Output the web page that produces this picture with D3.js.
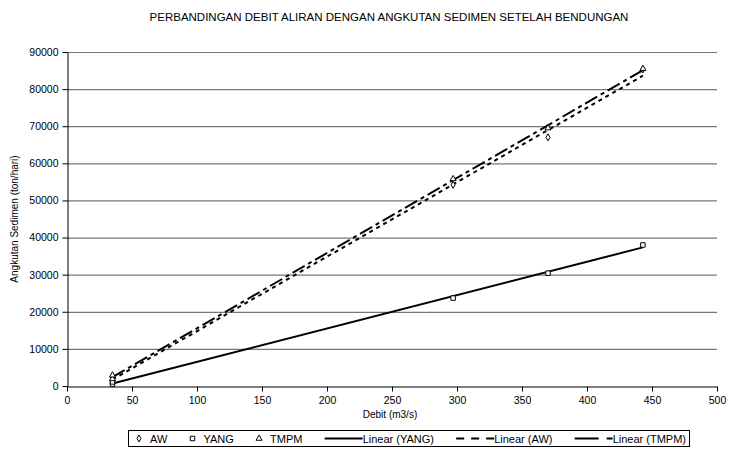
<!DOCTYPE html>
<html><head><meta charset="utf-8">
<script src="https://cdn.jsdelivr.net/npm/d3@7"></script>
<style>body{margin:0;background:#fff;font-family:"Liberation Sans",Arial,sans-serif;}</style>
</head><body>
<svg id="c" width="734" height="450"></svg>
<script>
const title = "PERBANDINGAN DEBIT ALIRAN DENGAN ANGKUTAN SEDIMEN SETELAH BENDUNGAN";
const xLabel = "Debit (m3/s)";
const yLabel = "Angkutan Sedimen (ton/hari)";
const debitAW = [35, 35, 297, 370, 443];
const valAW = [1500, 2400, 54200, 67000, 85300];
const debitYANG = [35, 35, 297, 370, 443];
const valYANG = [500, 1100, 23700, 30400, 38000];
const debitTMPM = [35, 35, 297, 370, 443];
const valTMPM = [1900, 2900, 55800, 69500, 85500];
const xTicks = [0,50,100,150,200,250,300,350,400,450,500];
const yTicks = [0,10000,20000,30000,40000,50000,60000,70000,80000,90000];
const legendItems = ["AW","YANG","TMPM","Linear (YANG)","Linear (AW)","Linear (TMPM)"];

const svg = d3.select("#c");
const L=67,R=717,T=52,B=386;
const x = d3.scaleLinear().domain([0,500]).range([L,R]);
const y = d3.scaleLinear().domain([0,90000]).range([B,T]);

svg.append("text").attr("x",389).attr("y",21).attr("text-anchor","middle")
  .attr("font-size","11.5px").text(title);

svg.append("g").selectAll("line").data(yTicks.filter(d=>d>0)).join("line")
  .attr("x1",L).attr("x2",R).attr("y1",d=>y(d)+0.5).attr("y2",d=>y(d)+0.5)
  .attr("stroke","#777").attr("stroke-width",1.2);

const ya = svg.append("g").attr("transform",`translate(${L+0.5},0)`)
  .call(d3.axisLeft(y).tickValues(yTicks).tickFormat(d3.format("d")).tickSize(5).tickSizeOuter(0));
const xa = svg.append("g").attr("transform",`translate(0,${B+0.5})`)
  .call(d3.axisBottom(x).tickValues(xTicks).tickFormat(d3.format("d")).tickSize(5).tickSizeOuter(0));
[ya,xa].forEach(a=>{a.selectAll("text").attr("font-size","10.5px").attr("fill","#000").attr("font-family","Liberation Sans, Arial, sans-serif");
 a.selectAll("line,path").attr("stroke","#000");});
ya.selectAll("text").attr("x",-9);
xa.selectAll("text").attr("y",10);

svg.append("text").attr("x",390).attr("y",418).attr("text-anchor","middle").attr("font-size","10px").text(xLabel);
svg.append("text").attr("transform",`translate(18,${(T+B)/2}) rotate(-90)`).attr("text-anchor","middle").attr("font-size","10px").text(yLabel);

function lin(xs,ys){const n=xs.length,mx=d3.mean(xs),my=d3.mean(ys);
 let sxy=0,sxx=0;for(let i=0;i<n;i++){sxy+=(xs[i]-mx)*(ys[i]-my);sxx+=(xs[i]-mx)**2;}
 const b=sxy/sxx;return {a:my-b*mx,b};}
function trend(xs,ys,dash){const f=lin(xs,ys),x0=d3.min(xs),x1=d3.max(xs);
 svg.append("line").attr("x1",x(x0)).attr("y1",y(f.a+f.b*x0)).attr("x2",x(x1)).attr("y2",y(f.a+f.b*x1))
  .attr("stroke","#000").attr("stroke-width",2).attr("stroke-dasharray",dash);}
trend(debitYANG,valYANG,null);
trend(debitAW,valAW,"4,4");
trend(debitTMPM,valTMPM,"14,4,4,4");

const sym = {AW:d3.symbol(d3.symbolDiamond,14), YANG:d3.symbol(d3.symbolSquare,20), TMPM:d3.symbol(d3.symbolTriangle,16)};
function pts(xs,ys,k){svg.append("g").selectAll("path").data(xs.map((d,i)=>[d,ys[i]])).join("path")
  .attr("transform",d=>`translate(${x(d[0])},${y(d[1])})`).attr("d",sym[k]())
  .attr("fill","#fff").attr("stroke","#000").attr("stroke-width",1);}
pts(debitAW,valAW,"AW");pts(debitYANG,valYANG,"YANG");pts(debitTMPM,valTMPM,"TMPM");

// legend
const lg = svg.append("g");
lg.append("rect").attr("x",128.5).attr("y",430.5).attr("width",561).attr("height",16).attr("fill","#fff").attr("stroke","#000");
const ly=438.5, fs="11px";
const items=[{t:legendItems[0],s:"AW"},{t:legendItems[1],s:"YANG"},{t:legendItems[2],s:"TMPM"},
 {t:legendItems[3],d:null},{t:legendItems[4],d:"8,7"},{t:legendItems[5],d:"24,8,6"}];
const texts=items.map(o=>lg.append("text").attr("y",ly+4).attr("font-size",fs).text(o.t));
const widths=texts.map(t=>t.node().getComputedTextLength());
const symW=14, lineW=38;
const content=d3.sum(widths)+3*symW+3*lineW;
const start=136, end=686;
const gap=(end-start-content)/5;
let cx=start;
items.forEach((o,i)=>{
  if(o.s){lg.append("path").attr("transform",`translate(${cx+3},${ly})`).attr("d",sym[o.s]()).attr("fill","#fff").attr("stroke","#000");
    texts[i].attr("x",cx+symW); cx+=symW+widths[i];}
  else {lg.append("line").attr("x1",cx).attr("x2",cx+lineW).attr("y1",ly).attr("y2",ly).attr("stroke","#000").attr("stroke-width",2).attr("stroke-dasharray",o.d);
    texts[i].attr("x",cx+lineW); cx+=lineW+widths[i];}
  cx+=gap;
});
</script>
</body></html>
